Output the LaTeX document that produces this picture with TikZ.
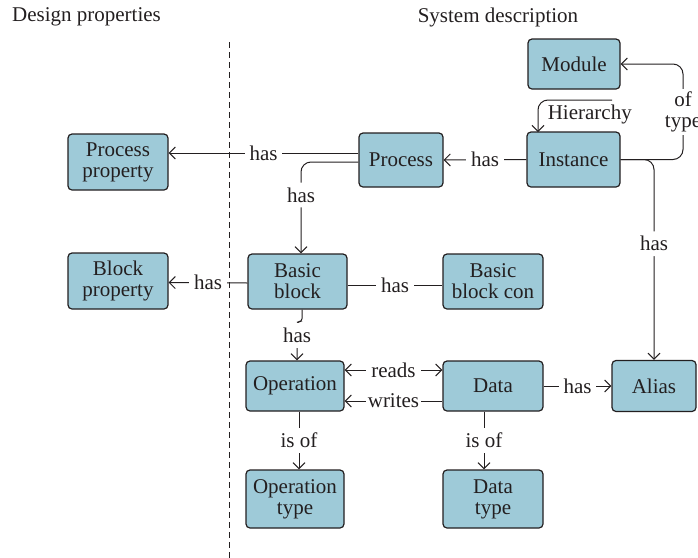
\documentclass[tikz,border=0pt]{standalone}
\usepackage{fontspec}
\setmainfont{Liberation Serif}
\usetikzlibrary{arrows.meta}
\definecolor{boxblue}{RGB}{158,202,216}
\definecolor{ink}{RGB}{35,31,32}

\begin{document}
\begin{tikzpicture}[x=0.5pt, y=-0.5pt, font=\fontsize{10.5}{10.5}\selectfont,
    color=ink, line width=0.5pt, >={Straight Barb[length=3pt, width=6pt]},
    box/.style={draw, rounded corners=2pt, fill=boxblue, align=center, inner sep=1pt, line width=0.6pt},
    lbl/.style={fill=white, inner sep=2.5pt}]

            \useasboundingbox (0,0) rectangle (698,558);

            % Titres
            \node[anchor=west] (hdes) at (5,17) {Design properties};
            \node (hsys) at (498,17) {System description};

            % Separation
            \coordinate (divtop) at (229,42);
            \coordinate (divbot) at (229,558);
            \draw[dash pattern=on 3pt off 2pt] (divtop) -- (divbot);

            % Noeuds
            \node[box, minimum width=46pt, minimum height=25pt] (mod) at (574,64) {Module};
            \node[box, minimum width=46.5pt, minimum height=27.5pt] (inst) at (573.5,159.5) {Instance};
            \node[box, minimum width=42pt, minimum height=27pt] (proc) at (401,160) {Process};
            \node[box, minimum width=50pt, minimum height=28pt] (pprop) at (118,162) {Process\\property};
            \node[box, minimum width=50pt, minimum height=28pt] (bprop) at (118,281) {Block\\property};
            \node[box, minimum width=49.5pt, minimum height=27.5pt] (bb) at (297.5,281.5) {Basic\\block};
            \node[box, minimum width=50pt, minimum height=27.5pt] (bbc) at (493,281.5) {Basic\\block con};
            \node[box, minimum width=49pt, minimum height=25pt] (op) at (295,386) {Operation};
            \node[box, minimum width=50pt, minimum height=25pt] (dat) at (493,386) {Data};
            \node[box, minimum width=42pt, minimum height=25.5pt] (al) at (654,386) {Alias};
            \node[box, minimum width=49pt, minimum height=29pt] (optype) at (295,499) {Operation\\type};
            \node[box, minimum width=50pt, minimum height=29pt] (dtype) at (493,499) {Data\\type};

            % Aretes
            \coordinate (oftype) at (683,112);
            \draw[->, rounded corners=5pt] (inst.east) -| (oftype) |- (mod.east);
            \node[lbl, inner sep=1.5pt, align=center] at (oftype) {of\\type};

            \coordinate (hier) at (612,100);
            \coordinate (hierend) at (538,132);
            \draw[->, rounded corners=5pt] (hier) -| node[pos=0.15, below, inner sep=2pt] {Hierarchy} (hierend);

            \draw[->, rounded corners=5pt] (inst.east) -| node[lbl, pos=0.71] {has} (al.north);
            \draw[->] (inst.west) -- node[lbl] {has} (proc.east);
            \draw[->] ([yshift=3.5pt]proc.west) -- node[lbl] {has} ([yshift=4.5pt]pprop.east);
            \draw[->, rounded corners=5pt] ([yshift=-1pt]proc.west) -| node[lbl, pos=0.68] {has} ([xshift=1.75pt]bb.north);
            \draw[->] ([yshift=-0.75pt]bb.west) -- node[lbl] {has} ([yshift=-0.75pt]bprop.east);
            \draw ([yshift=-1.75pt]bb.east) -- node[lbl] {has} ([yshift=-1.75pt]bbc.west);
            \draw[->, rounded corners=1.5pt] ([xshift=2.25pt]bb.south) -- ++(0,12) -| node[lbl, pos=0.68] {has} ([xshift=1pt]op.north);
            \draw[<->] ([yshift=8pt]op.east) -- node[lbl] {reads} ([yshift=8pt]dat.west);
            \draw[->] ([yshift=-7.5pt]dat.west) -- node[lbl, inner sep=1pt] {writes} ([yshift=-7.5pt]op.east);
            \draw[->] (dat.east) -- node[lbl] {has} (al.west);
            \draw[->] ([xshift=2pt]op.south) -- node[lbl] {is of} ([xshift=2pt]optype.north);
            \draw[->] ([xshift=-4.5pt]dat.south) -- node[lbl] {is of} ([xshift=-4.5pt]dtype.north);

\end{tikzpicture}
\end{document}
